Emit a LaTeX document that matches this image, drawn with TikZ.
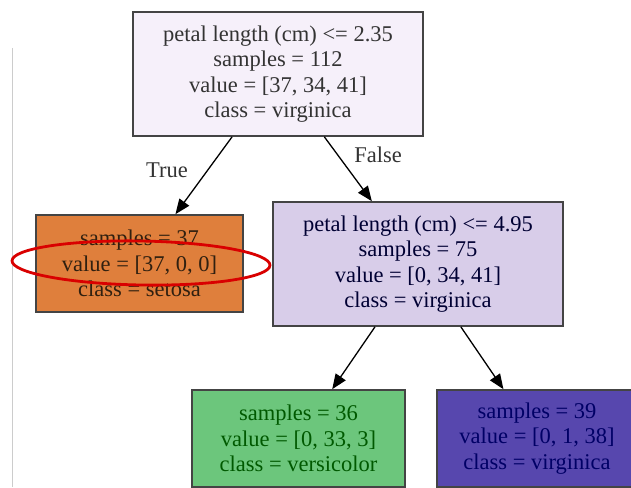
\documentclass[tikz,border=0pt]{standalone}
\usepackage{fontspec}
\setmainfont{Liberation Serif}
\usetikzlibrary{arrows.meta}
\definecolor{rootfill}{HTML}{F6F0FA}
\definecolor{setosafill}{HTML}{DF7F3C}
\definecolor{splitfill}{HTML}{D8CDE9}
\definecolor{versifill}{HTML}{6CC67C}
\definecolor{virgfill}{HTML}{5747AE}
\definecolor{edgegray}{HTML}{444444}

\begin{document}
\begin{tikzpicture}[x=1pt,y=1pt,>={Triangle[length=15pt,width=12pt]},
  font=\fontsize{22.5}{25.5}\selectfont,
  leaf/.style={draw=edgegray,line width=1.6pt,align=center,inner sep=0pt,minimum height=97pt},
  split/.style={leaf,minimum width=290pt,minimum height=124pt},
  edge/.style={->,line width=1.3pt}]
 \clip (0,0) rectangle (631,-487);
 \fill[white] (0,0) rectangle (631,-487);
 % page edge
 \draw[gray!40,line width=1pt] (12.5,-48) -- (12.5,-487);
 % nodes
 \node[split,fill=rootfill,text=black!80] (root) at (278,-74)
   {petal length (cm) <= 2.35\\samples = 112\\value = [37, 34, 41]\\class = virginica};
 \node[leaf,fill=setosafill,minimum width=207pt,text=black!75!brown] (setosa) at (139.5,-263.5)
   {samples = 37\\value = [37, 0, 0]\\class = setosa};
 \node[split,fill=splitfill,text=black!80!blue] (petal) at (418,-264)
   {petal length (cm) <= 4.95\\samples = 75\\value = [0, 34, 41]\\class = virginica};
 \node[leaf,fill=versifill,minimum width=213pt,text=green!35!black] (versi) at (298.5,-438.5)
   {samples = 36\\value = [0, 33, 3]\\class = versicolor};
 \node[leaf,fill=virgfill,minimum width=200pt,text=blue!40!black] (virg) at (537,-438.5)
   {samples = 39\\value = [0, 1, 38]\\class = virginica};
 % edges
 \draw[edge] (root) -- (setosa);
 \draw[edge] (root) -- (petal);
 \draw[edge] (petal) -- (versi);
 \draw[edge] (petal) -- (virg);
 \node[text=black!80] (truelab) at (167,-170) {True};
 \node[text=black!80] (falselab) at (378,-155) {False};
 % highlight
 \draw[red!85!black,line width=2.8pt,rotate around={-1:(141,-263)}] (141,-263) ellipse (129pt and 22pt);
\end{tikzpicture}
\end{document}
